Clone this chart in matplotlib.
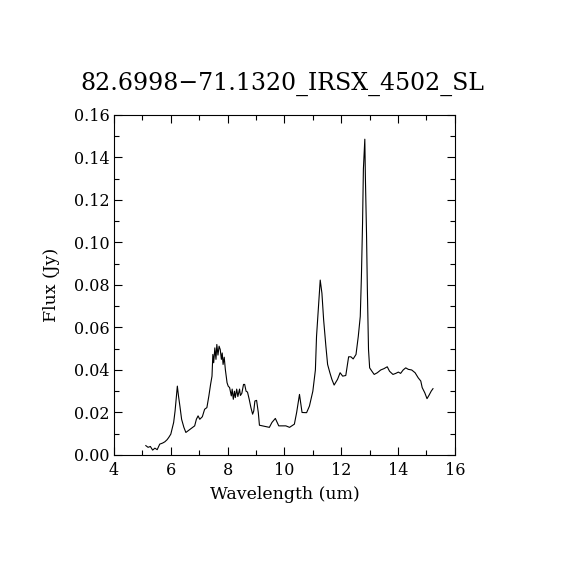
import matplotlib
matplotlib.use('Agg')
import matplotlib.pyplot as plt
from matplotlib.ticker import MultipleLocator

# spectrum
wave = [5.12, 5.20, 5.28, 5.36, 5.44, 5.52, 5.61, 5.71, 5.79, 5.87, 5.93, 6.00,
        6.06, 6.10, 6.15, 6.20, 6.23, 6.27, 6.32, 6.38, 6.46, 6.53, 6.61, 6.72,
        6.84, 6.90, 6.96, 7.02, 7.11, 7.19, 7.27, 7.34, 7.40, 7.45, 7.48, 7.51,
        7.55, 7.59, 7.62, 7.66, 7.70, 7.74, 7.78, 7.81, 7.84, 7.88, 7.92, 7.98,
        8.02, 8.07, 8.13, 8.16, 8.20, 8.24, 8.27, 8.32, 8.36, 8.42, 8.45, 8.50,
        8.56, 8.60, 8.65, 8.70, 8.76, 8.82, 8.88, 8.92, 8.96, 9.02, 9.08, 9.12,
        9.23, 9.35, 9.47, 9.56, 9.68, 9.80, 9.94, 10.05, 10.18, 10.35, 10.43,
        10.53, 10.62, 10.78, 10.88, 11.00, 11.09, 11.13, 11.20, 11.26, 11.32,
        11.38, 11.46, 11.52, 11.60, 11.67, 11.75, 11.87, 11.96, 12.05, 12.16,
        12.26, 12.34, 12.42, 12.52, 12.60, 12.67, 12.71, 12.75, 12.78, 12.83,
        12.85, 12.89, 12.92, 12.96, 13.00, 13.08, 13.16, 13.27, 13.39, 13.50,
        13.62, 13.70, 13.82, 13.92, 14.01, 14.09, 14.18, 14.27, 14.36, 14.48,
        14.60, 14.71, 14.80, 14.85, 14.94, 15.02, 15.09, 15.17, 15.23]
flux = [0.0044, 0.0036, 0.0040, 0.0023, 0.0032, 0.0025, 0.0051, 0.0056, 0.0062, 0.0072, 0.0083, 0.0098,
        0.0130, 0.0153, 0.0207, 0.0278, 0.0324, 0.0278, 0.0230, 0.0168, 0.0130, 0.0106, 0.0114, 0.0125,
        0.0137, 0.0168, 0.0184, 0.0168, 0.0180, 0.0215, 0.0223, 0.0278, 0.0332, 0.0371, 0.0473, 0.0434,
        0.0504, 0.0450, 0.0520, 0.0470, 0.0512, 0.0496, 0.0450, 0.0480, 0.0426, 0.0460, 0.0402, 0.0340,
        0.0324, 0.0317, 0.0278, 0.0310, 0.0262, 0.0300, 0.0270, 0.0310, 0.0275, 0.0310, 0.0280, 0.0290,
        0.0332, 0.0332, 0.0300, 0.0296, 0.0262, 0.0223, 0.0192, 0.0207, 0.0254, 0.0257, 0.0200, 0.0140,
        0.0137, 0.0134, 0.0130, 0.0153, 0.0172, 0.0137, 0.0137, 0.0137, 0.0130, 0.0145, 0.0200,
        0.0285, 0.0200, 0.0199, 0.0230, 0.0300, 0.0400, 0.0558, 0.0699, 0.0823, 0.0761,
        0.0636, 0.0511, 0.0426, 0.0387, 0.0356, 0.0329, 0.0356, 0.0387, 0.0371, 0.0374,
        0.0462, 0.0462, 0.0452, 0.0473, 0.0558, 0.0652, 0.0839, 0.1089, 0.1346, 0.1486,
        0.1307, 0.1042, 0.0777, 0.0496, 0.0410, 0.0394, 0.0379, 0.0387, 0.0400, 0.0406,
        0.0415, 0.0394, 0.0379, 0.0384, 0.0390, 0.0384, 0.0400, 0.0410, 0.0403, 0.0400,
        0.0387, 0.0363, 0.0348, 0.0317, 0.0293, 0.0265, 0.0281, 0.0301, 0.0312]

title = "82.6998\u221271.1320_IRSX_4502_SL"

plt.rcParams['font.family'] = ['DejaVu Serif']

fig = plt.figure(figsize=(5.7, 5.7), dpi=100)
ax = fig.add_axes([0.2, 0.2018, 0.598, 0.5965])
ax.plot(wave, flux, color='black', linewidth=0.8)

ax.set_xlim(4, 16)
ax.set_ylim(0, 0.16)
ax.xaxis.set_major_locator(MultipleLocator(2))
ax.xaxis.set_minor_locator(MultipleLocator(1))
ax.yaxis.set_major_locator(MultipleLocator(0.02))
ax.yaxis.set_minor_locator(MultipleLocator(0.01))
ax.yaxis.set_major_formatter(plt.FuncFormatter(lambda v, p: "%.2f" % v))
ax.tick_params(which='both', direction='in', top=True, right=True, labelsize=11.5, width=0.8)
ax.tick_params(which='major', length=6)
ax.tick_params(axis='x', which='major', pad=5)
ax.tick_params(axis='y', which='major', pad=3)
ax.tick_params(which='minor', length=3.5)
for s in ax.spines.values():
    s.set_linewidth(0.8)

ax.set_xlabel("Wavelength (um)", fontsize=12.5, labelpad=5)
ax.set_ylabel("Flux (Jy)", fontsize=12.5, labelpad=10)
fig.text(0.495, 0.852, title, ha='center', va='center', fontsize=17)

fig.savefig('out.png', dpi=100, facecolor='white')
